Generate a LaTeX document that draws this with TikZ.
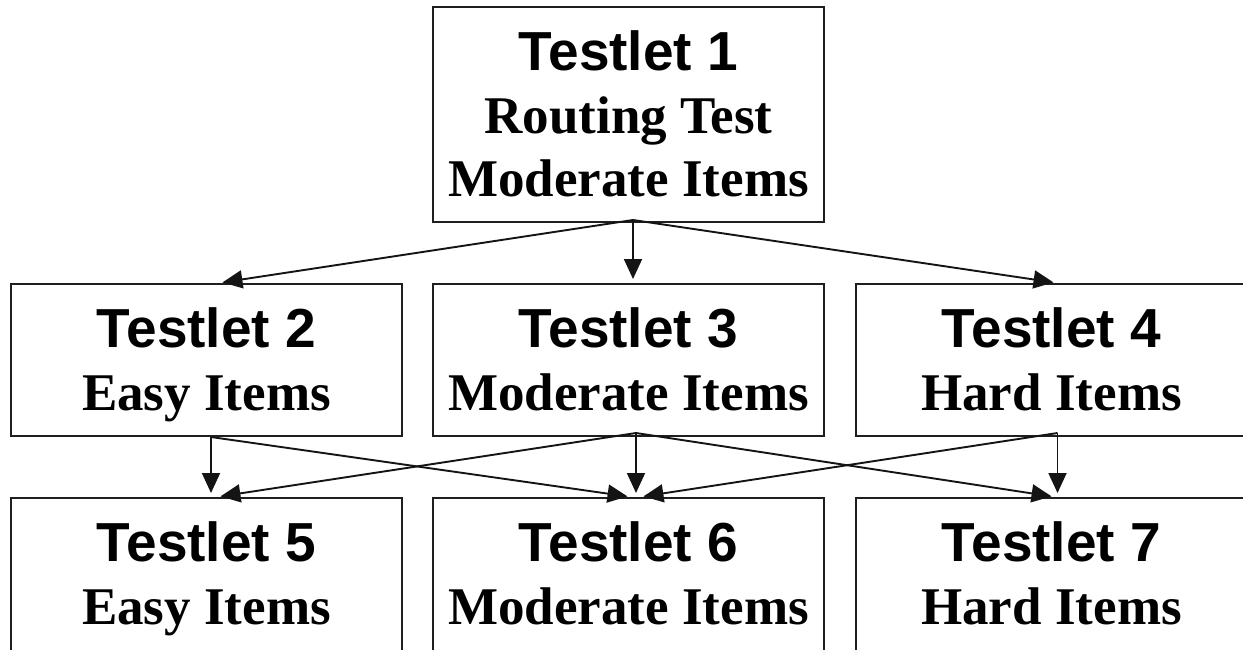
\documentclass[tikz,border=0pt]{standalone}
\usepackage{fontspec}
\setmainfont{Liberation Serif}
\newfontfamily\headfont{Liberation Sans}
\usetikzlibrary{arrows.meta,calc}
\begin{document}
\begin{tikzpicture}[x=1pt,y=-1pt,
  stagebox/.style={draw=black!88,line width=2pt,inner sep=0pt,
    minimum width=391pt},
  headline/.style={anchor=base,font=\headfont\fontsize{55}{63}\selectfont\bfseries},
  subline/.style={anchor=base,font=\fontsize{53}{63}\selectfont\bfseries},
  route/.style={draw=black!92,line width=1.9pt,
    -{Triangle[length=20pt,width=18pt]},shorten >=4pt}]
\useasboundingbox (0,0) rectangle (1243,649);

% stage 1
\node[stagebox,minimum height=215pt] (n1) at (628.5,114.5) {};
\node[headline] (t1a) at (628.5,70) {Testlet 1};
\node[subline] (t1b) at (628.5,133) {Routing Test};
\node[subline] (t1c) at (628.5,196) {Moderate Items};

% stage 2
\node[stagebox,minimum height=152pt] (n2) at (206.5,360) {};
\node[stagebox,minimum height=152pt] (n3) at (628.5,360) {};
\node[stagebox,minimum height=152pt] (n4) at (1051.5,360) {};
\node[headline] (t2a) at (206.5,347) {Testlet 2};
\node[subline] (t2b) at (206.5,410) {Easy Items};
\node[headline] (t3a) at (628.5,347) {Testlet 3};
\node[subline] (t3b) at (628.5,410) {Moderate Items};
\node[headline] (t4a) at (1051.5,347) {Testlet 4};
\node[subline] (t4b) at (1051.5,410) {Hard Items};

% stage 3 (lower edge runs past the page)
\node[stagebox,minimum height=160pt] (n5) at (206.5,578) {};
\node[stagebox,minimum height=160pt] (n6) at (628.5,578) {};
\node[stagebox,minimum height=160pt] (n7) at (1051.5,578) {};
\node[headline] (t5a) at (206.5,561) {Testlet 5};
\node[subline] (t5b) at (206.5,624) {Easy Items};
\node[headline] (t6a) at (628.5,561) {Testlet 6};
\node[subline] (t6b) at (628.5,624) {Moderate Items};
\node[headline] (t7a) at (1051.5,561) {Testlet 7};
\node[subline] (t7b) at (1051.5,624) {Hard Items};

% routing from stage 1
\draw[route] ([xshift=4.5pt,yshift=3pt]n1.south) -- ([xshift=12pt]n2.north);
\draw[route] ([xshift=4.5pt,yshift=3pt]n1.south) -- ([xshift=4.5pt]n3.north);
\draw[route] ([xshift=4.5pt,yshift=3pt]n1.south) -- ([xshift=6pt]n4.north);

% routing from stage 2
\draw[route] ([xshift=4.5pt]n2.south) -- ([xshift=4.5pt]n5.north);
\draw[route] ([xshift=4.5pt]n2.south) -- ([xshift=3pt]n6.north);
\draw[route] ([xshift=7.5pt,yshift=4pt]n3.south) -- ([xshift=10pt]n5.north);
\draw[route] ([xshift=7.5pt,yshift=4pt]n3.south) -- ([xshift=7.5pt]n6.north);
\draw[route] ([xshift=7.5pt,yshift=4pt]n3.south) -- ([xshift=4pt]n7.north);
\draw[route] ([xshift=6pt,yshift=4pt]n4.south) -- ([xshift=11pt]n6.north);
\draw[route] ([xshift=6pt,yshift=4pt]n4.south) -- ([xshift=6pt]n7.north);
\end{tikzpicture}
\end{document}
